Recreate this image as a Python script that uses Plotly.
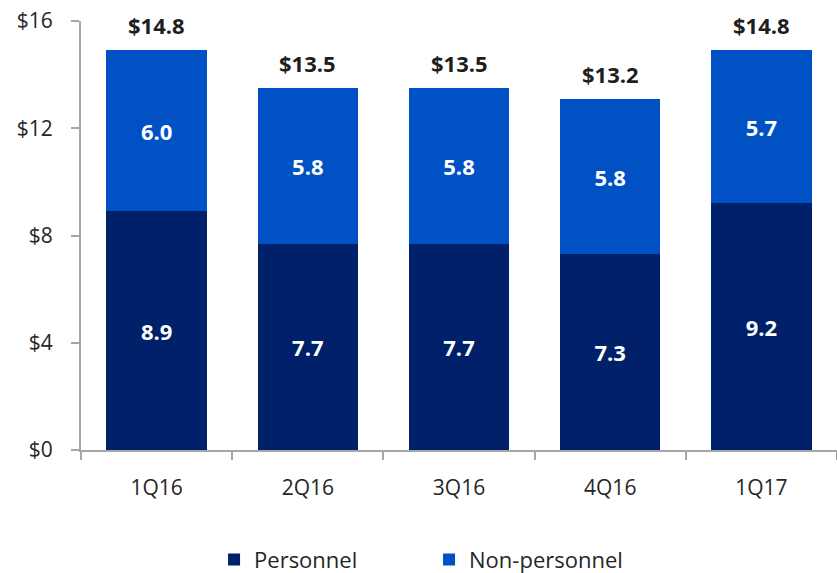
import plotly.graph_objects as go

quarters = ["1Q16", "2Q16", "3Q16", "4Q16", "1Q17"]
personnel = [8.9, 7.7, 7.7, 7.3, 9.2]
non_personnel = [6.0, 5.8, 5.8, 5.8, 5.7]
totals = [14.8, 13.5, 13.5, 13.2, 14.8]
y_ticks = [0, 4, 8, 12, 16]
y_tick_labels = ["$0", "$4", "$8", "$12", "$16"]

FONT = "Open Sans"
TXT = "#262626"
C_PERS = "#002169"
C_NON = "#0052C4"
AX = "#A6A6A6"

fig = go.Figure()
fig.add_trace(go.Bar(
    x=quarters, y=personnel, name="Personnel",
    marker=dict(color=C_PERS, line=dict(width=0)),
    text=[f"{v:.1f}" for v in personnel], textposition="inside",
    insidetextanchor="middle",
    textfont=dict(family=FONT, size=22, color="white", weight="bold"),
))
fig.add_trace(go.Bar(
    x=quarters, y=non_personnel, name="Non-personnel",
    marker=dict(color=C_NON, line=dict(width=0)),
    text=[f"{v:.1f}" for v in non_personnel], textposition="inside",
    insidetextanchor="middle",
    textfont=dict(family=FONT, size=22, color="white", weight="bold"),
))

for q, p, n, t in zip(quarters, personnel, non_personnel, totals):
    fig.add_annotation(
        x=q, y=p + n, text=f"${t:.1f}", showarrow=False,
        yanchor="bottom", yshift=8,
        font=dict(family=FONT, size=22, color="#1E1E1E", weight="bold"),
    )

fig.update_layout(
    barmode="stack", bargap=0.335,
    width=837, height=573,
    margin=dict(l=81, r=0, t=21, b=123, autoexpand=False),
    plot_bgcolor="white", paper_bgcolor="white",
    font=dict(family=FONT, size=21, color=TXT),
    uniformtext=dict(mode="show", minsize=10),
    showlegend=True,
    legend=dict(orientation="h", x=0.176, xanchor="left", y=-0.256, yanchor="middle",
                font=dict(family=FONT, size=22, color=TXT),
                entrywidth=170, entrywidthmode="pixels", traceorder="normal"),
)
fig.update_xaxes(
    showline=True, linecolor=AX, linewidth=2,
    ticks="outside", tickson="boundaries", ticklen=8, tickcolor=AX, tickwidth=2,
    ticklabelstandoff=18, ticklabeloverflow="allow",
    tickfont=dict(family=FONT, size=21, color=TXT), showgrid=False,
)
fig.update_yaxes(
    range=[0, 16], tickvals=y_ticks, ticktext=y_tick_labels,
    showline=True, linecolor=AX, linewidth=2,
    ticks="outside", ticklen=8, tickcolor=AX, tickwidth=2,
    ticklabelstandoff=14, ticklabeloverflow="allow",
    tickfont=dict(family=FONT, size=21, color=TXT), showgrid=False, zeroline=False,
)

fig.write_html("out.html",
               config={"displayModeBar": False},
               post_script="document.body.style.margin='0px';document.body.style.overflow='hidden';")
